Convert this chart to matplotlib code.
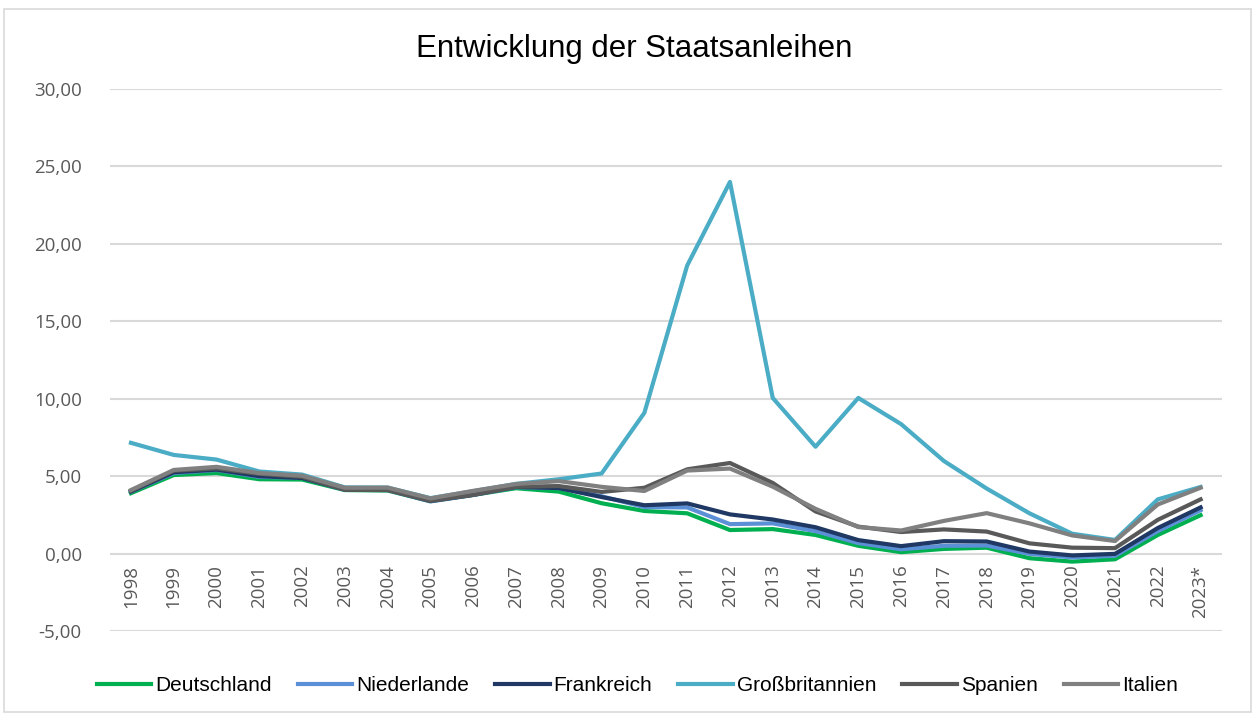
import matplotlib.pyplot as plt
from matplotlib.patches import Rectangle
from matplotlib.ticker import FuncFormatter

jahre = ['1998', '1999', '2000', '2001', '2002', '2003', '2004', '2005', '2006',
         '2007', '2008', '2009', '2010', '2011', '2012', '2013', '2014', '2015',
         '2016', '2017', '2018', '2019', '2020', '2021', '2022', '2023*']

deutschland = [3.90, 5.07, 5.20, 4.80, 4.78, 4.10, 4.07, 3.38, 3.79, 4.22, 4.00, 3.25, 2.75,
               2.60, 1.52, 1.58, 1.20, 0.50, 0.09, 0.30, 0.38, -0.30, -0.52, -0.37, 1.20, 2.48]
niederlande = [4.00, 5.20, 5.40, 4.95, 4.90, 4.12, 4.10, 3.37, 3.78, 4.29, 4.23, 3.70, 3.00,
               2.98, 1.90, 1.95, 1.45, 0.68, 0.28, 0.50, 0.52, -0.02, -0.25, -0.14, 1.45, 2.80]
frankreich = [4.00, 5.25, 5.42, 5.00, 4.88, 4.13, 4.12, 3.40, 3.80, 4.30, 4.23, 3.65, 3.12,
              3.24, 2.53, 2.20, 1.70, 0.87, 0.48, 0.80, 0.78, 0.13, -0.12, -0.02, 1.65, 2.98]
grossbritannien = [7.15, 6.37, 6.07, 5.30, 5.10, 4.27, 4.26, 3.58, 4.03, 4.50, 4.80, 5.17, 9.09,
                   18.60, 24.00, 10.05, 6.90, 10.05, 8.36, 5.98, 4.20, 2.60, 1.28, 0.88, 3.50, 4.30]
spanien = [4.05, 5.35, 5.50, 5.15, 4.95, 4.12, 4.10, 3.40, 3.79, 4.31, 4.36, 3.98, 4.25,
           5.44, 5.85, 4.56, 2.72, 1.74, 1.39, 1.56, 1.42, 0.66, 0.38, 0.35, 2.18, 3.50]
italien = [4.10, 5.40, 5.60, 5.20, 5.03, 4.25, 4.26, 3.56, 4.05, 4.49, 4.68, 4.31, 4.04,
           5.36, 5.49, 4.32, 2.89, 1.71, 1.49, 2.11, 2.61, 1.95, 1.17, 0.81, 3.17, 4.25]

serien = [
    ('Deutschland', deutschland, '#00b050'),
    ('Niederlande', niederlande, '#5b8fd6'),
    ('Frankreich', frankreich, '#1f3864'),
    ('Großbritannien', grossbritannien, '#4bacc6'),
    ('Spanien', spanien, '#595959'),
    ('Italien', italien, '#808080'),
]

fig = plt.figure(figsize=(12.55, 7.15), dpi=100)
ax = fig.add_axes([0.0873, 0.1175, 0.8864, 0.758])

# Rahmen um das Diagramm
fig.patches.append(Rectangle((0.003, 0.004), 0.994, 0.983, transform=fig.transFigure,
                             fill=False, edgecolor='#d9d9d9', linewidth=1.2))

x = list(range(len(jahre)))
for name, werte, farbe in serien:
    ax.plot(x, werte, color=farbe, linewidth=3, label=name, solid_joinstyle='round')

ax.set_xlim(-0.5, len(jahre) - 0.5)
ax.set_ylim(-5, 30)
ax.set_yticks(range(-5, 31, 5))
ax.yaxis.set_major_formatter(FuncFormatter(lambda v, p: f'{v:.2f}'.replace('.', ',')))
ax.grid(axis='y', color='#d9d9d9', linewidth=1.5)
ax.set_axisbelow(True)

for s in ['top', 'right', 'left']:
    ax.spines[s].set_visible(False)
ax.spines['bottom'].set_position(('data', 0))
ax.spines['bottom'].set_visible(False)

ax.set_xticks(x)
ax.set_xticklabels(jahre, rotation=90, fontsize=13.5, color='#595959', family='Open Sans')
ax.tick_params(axis='x', length=0, pad=8)
ax.tick_params(axis='y', length=0, pad=20, labelsize=13.5, labelcolor='#595959')
for lbl in ax.get_yticklabels():
    lbl.set_family('Open Sans')

fig.text(0.505, 0.931, 'Entwicklung der Staatsanleihen', ha='center', va='center',
         fontsize=22.5, family='Liberation Sans')

fig.legend(loc='center', bbox_to_anchor=(0.508, 0.041), ncol=6, frameon=False,
           prop={'family': 'Liberation Sans', 'size': 15}, handlelength=2.6,
           handletextpad=0.2, columnspacing=1.25)

fig.savefig('out.png', dpi=100)
